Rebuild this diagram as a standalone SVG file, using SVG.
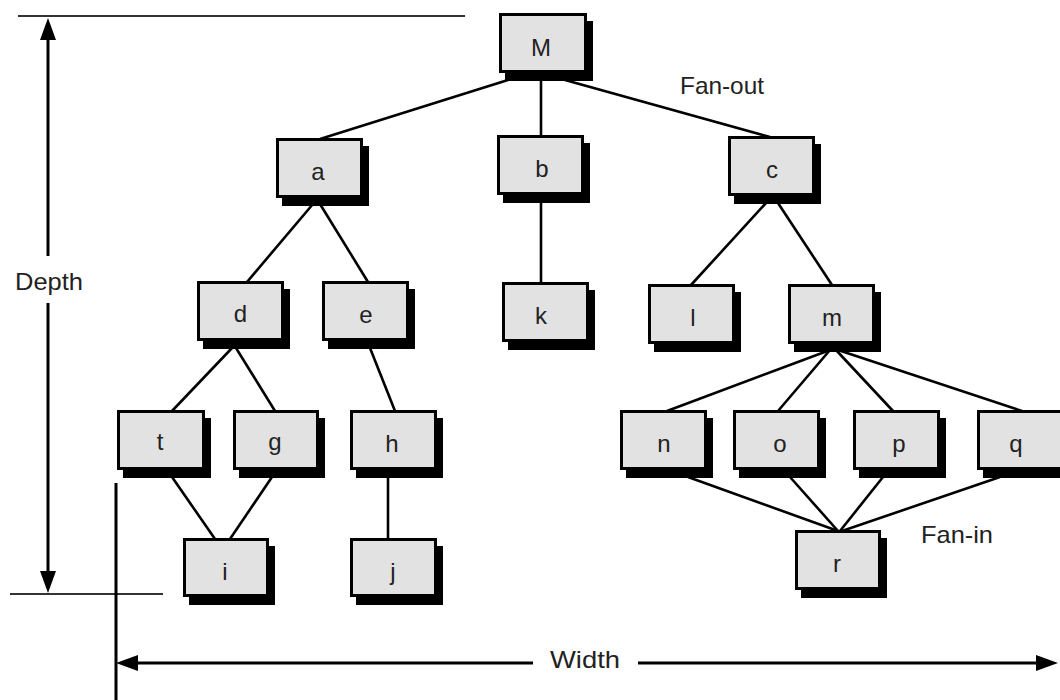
<svg xmlns="http://www.w3.org/2000/svg" width="1060" height="700" viewBox="0 0 1060 700">
  <style>
    .bg { fill: #ffffff; }
    .sh { fill: #000000; }
    .box { fill: #e2e2e2; stroke: #000000; stroke-width: 3; }
    .lbl { font-family: "Liberation Sans", "DejaVu Sans", sans-serif; font-size: 24px; fill: #222222; text-anchor: middle; }
    .note { font-family: "Liberation Sans", "DejaVu Sans", sans-serif; font-size: 24px; fill: #222222; }
    .edge { stroke: #000000; stroke-width: 2.6; fill: none; }
    .dim { stroke: #000000; stroke-width: 3; fill: none; }
    .ext { stroke: #333333; stroke-width: 2; fill: none; }
  </style>
  <defs>
    <marker id="arrow" viewBox="0 0 22 16" refX="0" refY="8" markerWidth="22" markerHeight="16" markerUnits="userSpaceOnUse" orient="auto">
      <path d="M0,0 L22,8 L0,16 Z" fill="#000000"/>
    </marker>
  </defs>

  <rect class="bg" x="0" y="0" width="1060" height="700"/>

  <!-- dimension lines: depth and width -->
  <g id="dimensions">
    <line class="ext" x1="18" y1="16" x2="465" y2="16"/>
    <line class="ext" x1="10" y1="594" x2="163" y2="594"/>
    <line class="dim" x1="48" y1="256" x2="48" y2="40" marker-end="url(#arrow)"/>
    <line class="dim" x1="48" y1="303" x2="48" y2="571" marker-end="url(#arrow)"/>
    <line class="dim" x1="116" y1="483" x2="116" y2="700"/>
    <line class="dim" x1="533" y1="663" x2="138" y2="663" marker-end="url(#arrow)"/>
    <line class="dim" x1="638" y1="663" x2="1036" y2="663" marker-end="url(#arrow)"/>
    <text class="note" x="15" y="290" textLength="68" lengthAdjust="spacingAndGlyphs">Depth</text>
    <text class="note" x="550" y="668" textLength="70" lengthAdjust="spacingAndGlyphs">Width</text>
  </g>

  <!-- tree edges -->
  <g id="connectors">
    <line class="edge" x1="508" y1="80" x2="320" y2="139"/>
    <line class="edge" x1="541" y1="80" x2="541" y2="136"/>
    <line class="edge" x1="565" y1="80" x2="770" y2="137"/>
    <line class="edge" x1="313" y1="204" x2="247" y2="282"/>
    <line class="edge" x1="320" y1="204" x2="368" y2="282"/>
    <line class="edge" x1="541" y1="202" x2="541" y2="283"/>
    <line class="edge" x1="766" y1="203" x2="691" y2="285"/>
    <line class="edge" x1="778" y1="203" x2="832" y2="285"/>
    <line class="edge" x1="232" y1="348" x2="172" y2="411"/>
    <line class="edge" x1="236" y1="348" x2="275" y2="411"/>
    <line class="edge" x1="370" y1="348" x2="395" y2="411"/>
    <line class="edge" x1="172" y1="477" x2="215" y2="539"/>
    <line class="edge" x1="272" y1="477" x2="230" y2="539"/>
    <line class="edge" x1="388" y1="477" x2="388" y2="539"/>
    <line class="edge" x1="830" y1="350" x2="667" y2="411"/>
    <line class="edge" x1="830" y1="350" x2="778" y2="411"/>
    <line class="edge" x1="836" y1="350" x2="893" y2="411"/>
    <line class="edge" x1="838" y1="350" x2="1022" y2="411"/>
    <line class="edge" x1="688" y1="477" x2="838" y2="531"/>
    <line class="edge" x1="790" y1="477" x2="838" y2="531"/>
    <line class="edge" x1="883" y1="477" x2="840" y2="531"/>
    <line class="edge" x1="1000" y1="477" x2="842" y2="531"/>
  </g>

  <text class="note" x="680" y="94" textLength="84" lengthAdjust="spacingAndGlyphs">Fan-out</text>
  <text class="note" x="921" y="543" textLength="72" lengthAdjust="spacingAndGlyphs">Fan-in</text>

  <!-- modules: shadow, box, label -->
  <g id="node-M"><rect class="sh" x="505" y="21" width="88" height="60"/><rect class="box" x="500.5" y="14.5" width="85" height="57"/><text class="lbl" x="541" y="56">M</text></g>
  <g id="node-a"><rect class="sh" x="282" y="146" width="87" height="60"/><rect class="box" x="277.5" y="139.5" width="84" height="57"/><text class="lbl" x="318" y="180">a</text></g>
  <g id="node-b"><rect class="sh" x="503" y="143" width="87" height="60"/><rect class="box" x="498.5" y="136.5" width="84" height="57"/><text class="lbl" x="542" y="177">b</text></g>
  <g id="node-c"><rect class="sh" x="734" y="144" width="87" height="60"/><rect class="box" x="729.5" y="137.5" width="84" height="57"/><text class="lbl" x="772" y="178">c</text></g>
  <g id="node-d"><rect class="sh" x="203" y="289" width="87" height="60"/><rect class="box" x="198.5" y="282.5" width="84" height="57"/><text class="lbl" x="240.5" y="322">d</text></g>
  <g id="node-e"><rect class="sh" x="328" y="289" width="87" height="60"/><rect class="box" x="323.5" y="282.5" width="84" height="57"/><text class="lbl" x="366" y="323">e</text></g>
  <g id="node-k"><rect class="sh" x="508" y="290" width="87" height="60"/><rect class="box" x="503.5" y="283.5" width="84" height="57"/><text class="lbl" x="541" y="324">k</text></g>
  <g id="node-l"><rect class="sh" x="654" y="292" width="87" height="60"/><rect class="box" x="649.5" y="285.5" width="84" height="57"/><text class="lbl" x="693" y="326">l</text></g>
  <g id="node-m"><rect class="sh" x="794" y="292" width="87" height="60"/><rect class="box" x="789.5" y="285.5" width="84" height="57"/><text class="lbl" x="832" y="326">m</text></g>
  <g id="node-t"><rect class="sh" x="123" y="418" width="88" height="60"/><rect class="box" x="118.5" y="411.5" width="85" height="57"/><text class="lbl" x="160" y="450">t</text></g>
  <g id="node-g"><rect class="sh" x="239" y="418" width="86" height="60"/><rect class="box" x="234.5" y="411.5" width="83" height="57"/><text class="lbl" x="275" y="450">g</text></g>
  <g id="node-h"><rect class="sh" x="356" y="418" width="87" height="60"/><rect class="box" x="351.5" y="411.5" width="84" height="57"/><text class="lbl" x="392" y="452">h</text></g>
  <g id="node-n"><rect class="sh" x="626" y="418" width="87" height="60"/><rect class="box" x="621.5" y="411.5" width="84" height="57"/><text class="lbl" x="664" y="452">n</text></g>
  <g id="node-o"><rect class="sh" x="739" y="418" width="87" height="60"/><rect class="box" x="734.5" y="411.5" width="84" height="57"/><text class="lbl" x="780" y="452">o</text></g>
  <g id="node-p"><rect class="sh" x="859" y="418" width="87" height="60"/><rect class="box" x="854.5" y="411.5" width="84" height="57"/><text class="lbl" x="899" y="452">p</text></g>
  <g id="node-q"><rect class="sh" x="983" y="418" width="87" height="60"/><rect class="box" x="978.5" y="411.5" width="84" height="57"/><text class="lbl" x="1016" y="452">q</text></g>
  <g id="node-i"><rect class="sh" x="189" y="546" width="86" height="59"/><rect class="box" x="184.5" y="539.5" width="83" height="56"/><text class="lbl" x="225" y="580">i</text></g>
  <g id="node-j"><rect class="sh" x="356" y="546" width="87" height="59"/><rect class="box" x="351.5" y="539.5" width="84" height="56"/><text class="lbl" x="393" y="580">j</text></g>
  <g id="node-r"><rect class="sh" x="801" y="538" width="86" height="60"/><rect class="box" x="796.5" y="531.5" width="83" height="57"/><text class="lbl" x="837" y="572">r</text></g>
</svg>
